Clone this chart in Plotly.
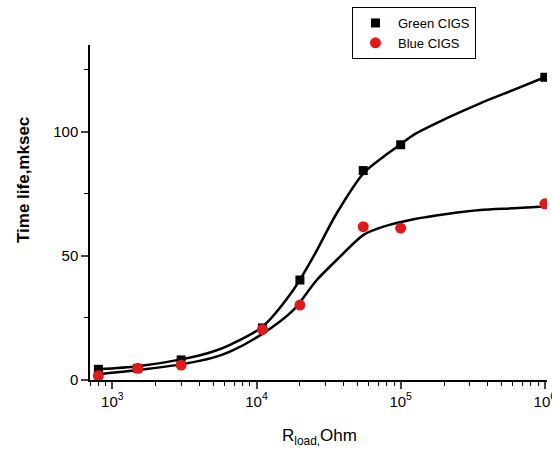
import plotly.graph_objects as go

# Measured data points
green_x = [800, 1500, 3000, 11000, 20000, 55000, 100000, 1000000]
green_y = [4.3, 4.7, 8.1, 21.0, 40.3, 84.4, 94.8, 122.0]
blue_x = [800, 1500, 3000, 11000, 20000, 55000, 100000, 1000000]
blue_y = [1.7, 4.7, 6.0, 20.4, 30.2, 61.8, 61.2, 71.0]

# Fitted curves
green_fit_x = [800, 1500, 3000, 5000, 6550, 10900, 18000, 24800, 36000, 55200, 76000, 99000, 123000, 209000, 356000, 607000, 1000000]
green_fit_y = [4.3, 5.5, 8.3, 11.5, 14.2, 21.3, 36.3, 49.7, 67.2, 83.3, 90.0, 94.8, 98.8, 105.5, 111.5, 116.9, 122.0]
blue_fit_x = [800, 1500, 3000, 5000, 6550, 10900, 18000, 26200, 38000, 55200, 76000, 123000, 209000, 356000, 607000, 1000000]
blue_fit_y = [2.3, 4.0, 6.3, 9.0, 11.4, 18.5, 28.2, 40.3, 49.7, 58.5, 61.8, 64.8, 66.9, 68.5, 69.2, 69.9]

x_tick_vals = [1e3, 1e4, 1e5, 1e6]
x_tick_text = ["10<sup>3</sup>", "10<sup>4</sup>", "10<sup>5</sup>", "10<sup>6</sup>"]
y_tick_vals = [0, 50, 100]
y_minor_vals = [25, 75, 125]
minor_x = [m * 10 ** e for e in range(2, 6) for m in range(2, 10)]

fig = go.Figure()
for fx, fy in ((green_fit_x, green_fit_y), (blue_fit_x, blue_fit_y)):
    fig.add_trace(go.Scatter(x=fx, y=fy, mode="lines",
                             line=dict(color="black", width=2.5, shape="spline", smoothing=0.8),
                             showlegend=False, hoverinfo="skip"))
fig.add_trace(go.Scatter(x=green_x, y=green_y, mode="markers", name="Green CIGS",
                         marker=dict(symbol="square", size=9, color="black")))
fig.add_trace(go.Scatter(x=blue_x, y=blue_y, mode="markers", name="Blue CIGS",
                         marker=dict(symbol="circle", size=11, color="#e01a1a")))

fig.update_layout(
    width=552, height=455,
    margin=dict(l=90, r=5, t=45, b=75, autoexpand=False),
    paper_bgcolor="white", plot_bgcolor="white",
    font=dict(family="Arial, Liberation Sans, sans-serif", color="black", size=15),
    legend=dict(x=0.5733, y=1.1134, xanchor="left", yanchor="top", bordercolor="black", borderwidth=1,
                bgcolor="white", font=dict(size=13), tracegroupgap=0, itemsizing="trace",
                itemwidth=35),
    xaxis=dict(type="log", range=[2.845, 6.015], tickmode="array", tickvals=x_tick_vals, ticktext=x_tick_text,
               showline=True, linecolor="black", linewidth=1.5, ticks="outside", ticklen=7, tickwidth=1.5,
               showgrid=False, zeroline=False, mirror=False, ticklabeloverflow="allow",
               minor=dict(tickmode="array", tickvals=minor_x, ticks="outside", ticklen=4,
                          tickcolor="black", tickwidth=1.2, showgrid=False),
               tickfont=dict(size=15)),
    yaxis=dict(range=[0, 135], tickmode="array", tickvals=y_tick_vals, showline=True, linecolor="black",
               linewidth=1.5, ticks="outside", ticklen=7, tickwidth=1.5, showgrid=False, zeroline=False,
               minor=dict(tickmode="array", tickvals=y_minor_vals, ticks="outside", ticklen=4,
                          tickcolor="black", tickwidth=1.2, showgrid=False),
               tickfont=dict(size=15)),
    annotations=[
        dict(text="<b>Time life,mksec</b>", textangle=-90, xref="paper", yref="paper",
             x=-0.1466, y=0.597, xanchor="center", yanchor="middle", showarrow=False,
             font=dict(size=17)),
        dict(text="R<sub>load,</sub>Ohm", xref="paper", yref="paper",
             x=0.503, y=-0.170, xanchor="center", yanchor="middle", showarrow=False,
             font=dict(size=17)),
    ],
)

fig.write_html("out.html", config={"displayModeBar": False},
               post_script="document.body.style.margin='0';")
